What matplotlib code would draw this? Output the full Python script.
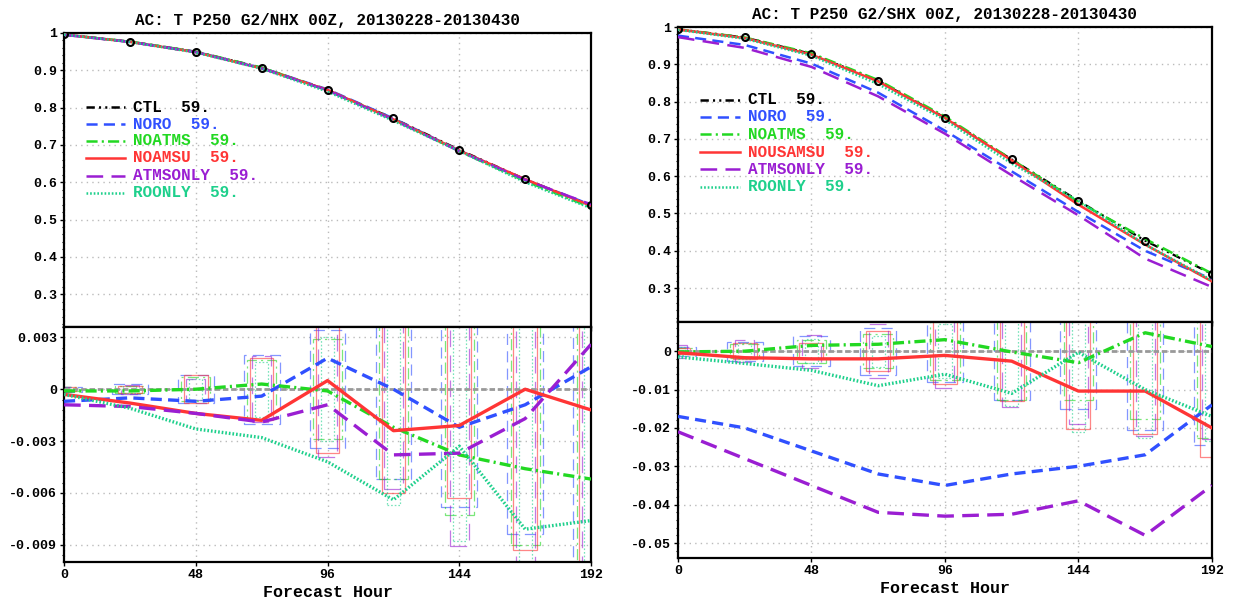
import numpy as np
import matplotlib
matplotlib.use("Agg")
import matplotlib.pyplot as plt
from matplotlib.patches import Rectangle
from matplotlib.ticker import MultipleLocator

plt.rcParams['font.family'] = ['Liberation Mono', 'DejaVu Sans Mono']
plt.rcParams['font.weight'] = 'bold'
plt.rcParams['axes.unicode_minus'] = False
plt.rcParams['lines.scale_dashes'] = False

# forecast hours
hours = [0, 24, 48, 72, 96, 120, 144, 168, 192]

# experiments
exps = ['NORO', 'NOATMS', 'NOAMSU', 'ATMSONLY', 'ROONLY']
ncases = '59.'

# CTL anomaly correlation
nh_ctl = [0.996, 0.977, 0.950, 0.907, 0.847, 0.771, 0.687, 0.608, 0.538]
sh_ctl = [0.994, 0.972, 0.928, 0.856, 0.757, 0.645, 0.534, 0.427, 0.338]

# differences from CTL (exp - CTL), NH
nh_noro = [-0.0007, -0.0005, -0.0007, -0.0004, 0.0018, 0.0, -0.0022, -0.0009, 0.0013]
nh_noatms = [-0.0001, -0.0001, 0.0, 0.0003, -0.0001, -0.0022, -0.0038, -0.0046, -0.0052]
nh_noamsu = [-0.0003, -0.0008, -0.0014, -0.0018, 0.0005, -0.0024, -0.0021, 0.0, -0.0012]
nh_atmsonly = [-0.0009, -0.0010, -0.0014, -0.0019, -0.0009, -0.0038, -0.0037, -0.0017, 0.0026]
nh_roonly = [-0.0003, -0.0011, -0.0023, -0.0028, -0.0042, -0.0064, -0.0033, -0.0081, -0.0076]

# differences from CTL, SH
sh_noro = [-0.017, -0.020, -0.026, -0.032, -0.035, -0.032, -0.030, -0.027, -0.014]
sh_noatms = [-0.0002, 0.0, 0.0015, 0.0018, 0.003, -0.0002, -0.003, 0.0048, 0.0012]
sh_noamsu = [-0.0004, -0.0017, -0.002, -0.002, -0.0011, -0.0026, -0.0104, -0.0104, -0.020]
sh_atmsonly = [-0.021, -0.028, -0.035, -0.042, -0.043, -0.0425, -0.039, -0.048, -0.035]
sh_roonly = [-0.0015, -0.0032, -0.005, -0.009, -0.006, -0.011, -0.0003, -0.010, -0.017]

# significance bar half heights, NH
nh_ci_noro = [0.00015, 0.0003, 0.0008, 0.0020, 0.0034, 0.0052, 0.0068, 0.0084, 0.012]
nh_ci_noatms = [0.0001, 0.0002, 0.0007, 0.0017, 0.0029, 0.0052, 0.0073, 0.0090, 0.012]
nh_ci_noamsu = [0.0001, 0.0002, 0.0008, 0.0018, 0.0037, 0.0060, 0.0063, 0.0093, 0.012]
nh_ci_atmsonly = [0.00015, 0.00025, 0.0006, 0.0019, 0.0039, 0.0058, 0.0091, 0.0110, 0.012]
nh_ci_roonly = [0.0001, 0.0002, 0.0006, 0.0016, 0.0030, 0.0067, 0.0088, 0.0105, 0.012]

# significance bar half heights, SH
sh_ci_noro = [0.0012, 0.0025, 0.0039, 0.0061, 0.0080, 0.0127, 0.0152, 0.0205, 0.0245]
sh_ci_noatms = [0.0008, 0.0018, 0.0030, 0.0044, 0.0075, 0.0128, 0.0126, 0.0178, 0.0225]
sh_ci_noamsu = [0.0008, 0.0020, 0.0020, 0.0052, 0.0085, 0.0130, 0.0204, 0.0215, 0.0275]
sh_ci_atmsonly = [0.0017, 0.0029, 0.0043, 0.0070, 0.0095, 0.0145, 0.0190, 0.0220, 0.0230]
sh_ci_roonly = [0.0010, 0.0020, 0.0032, 0.0040, 0.0070, 0.0142, 0.0210, 0.0225, 0.0235]

# styles
colors = {'CTL': 'black', 'NORO': '#3050ff', 'NOATMS': '#22d822', 'NOAMSU': '#ff3535',
          'ATMSONLY': '#9a1ed2', 'ROONLY': '#1ed08c'}
dashes = {'CTL': (0, (6, 3, 1.5, 3, 1.5, 3)), 'NORO': (0, (8, 4.5)),
          'NOATMS': (0, (8, 3, 1.5, 3)), 'NOAMSU': '-',
          'ATMSONLY': (0, (12, 6)), 'ROONLY': (0, (1.2, 1.4))}
box_hw = {'NORO': 6.5, 'NOATMS': 5.3, 'NOAMSU': 4.3, 'ATMSONLY': 3.4, 'ROONLY': 2.4}

panels = [
    dict(title='AC: T P250 G2/NHX 00Z, 20130228-20130430', ctl=nh_ctl,
         diff=[nh_noro, nh_noatms, nh_noamsu, nh_atmsonly, nh_roonly],
         ci=[nh_ci_noro, nh_ci_noatms, nh_ci_noamsu, nh_ci_atmsonly, nh_ci_roonly],
         names=['NORO', 'NOATMS', 'NOAMSU', 'ATMSONLY', 'ROONLY'],
         top=[0.0518, 0.4568, 0.4264, 0.4884], bot=[0.0518, 0.0664, 0.4264, 0.3904],
         ylim=(0.212, 1.0), dlim=(-0.0100, 0.0036), dstep=0.003,
         dticks=['-0.009', '-0.006', '-0.003', '0', '0.003'],
         leg_y=[0.748, 0.690, 0.633, 0.575, 0.514, 0.456]),
    dict(title='AC: T P250 G2/SHX 00Z, 20130228-20130430', ctl=sh_ctl,
         diff=[sh_noro, sh_noatms, sh_noamsu, sh_atmsonly, sh_roonly],
         ci=[sh_ci_noro, sh_ci_noatms, sh_ci_noamsu, sh_ci_atmsonly, sh_ci_roonly],
         names=['NORO', 'NOATMS', 'NOUSAMSU', 'ATMSONLY', 'ROONLY'],
         top=[0.5485, 0.4651, 0.4320, 0.4900], bot=[0.5485, 0.0731, 0.4320, 0.3920],
         ylim=(0.209, 1.0), dlim=(-0.0539, 0.0076), dstep=0.01,
         dticks=['-0.05', '-0.04', '-0.03', '-0.02', '-0.01', '0'],
         leg_y=[0.753, 0.695, 0.637, 0.576, 0.518, 0.458]),
]

fig = plt.figure(figsize=(12.36, 6.02), dpi=100)

for p in panels:
    ax = fig.add_axes(p['top'])
    ax2 = fig.add_axes(p['bot'])
    ctl = np.array(p['ctl'])

    # upper panel: AC scores
    ax.plot(hours, ctl, color=colors['CTL'], linestyle=dashes['CTL'], lw=1.6, zorder=3)
    for exp, d in zip(exps, p['diff']):
        ax.plot(hours, ctl + np.array(d), color=colors[exp], linestyle=dashes[exp], lw=1.8, zorder=4)
    ax.plot(hours, ctl, linestyle='none', marker='o', ms=5, mfc='none', mec='black', mew=1.5, zorder=5)
    ax.set_xlim(0, 192)
    ax.set_ylim(*p['ylim'])
    ax.set_yticks([0.3, 0.4, 0.5, 0.6, 0.7, 0.8, 0.9, 1.0])
    ax.set_yticklabels(['0.3', '0.4', '0.5', '0.6', '0.7', '0.8', '0.9', '1'])
    ax.set_xticks([0, 48, 96, 144, 192])
    ax.tick_params(axis='x', length=0, labelbottom=False)
    ax.yaxis.set_minor_locator(MultipleLocator(0.02))
    ax.set_title(p['title'], fontsize=11.5, fontweight='bold', pad=6)

    # legend drawn by hand
    labels = ['CTL'] + p['names']
    for i, (lab, key) in enumerate(zip(labels, ['CTL'] + exps)):
        y = p['leg_y'][i]
        ax.plot([0.042, 0.116], [y, y], transform=ax.transAxes, color=colors[key],
                linestyle=dashes[key], lw=1.8, clip_on=False)
        ax.text(0.131, y, lab + '  ' + ncases, transform=ax.transAxes, color=colors[key],
                fontsize=11.5, fontweight='bold', va='center', ha='left')

    # lower panel: differences and significance boxes
    for exp, d, ci in zip(exps, p['diff'], p['ci']):
        for h, c in zip(hours, ci):
            w = box_hw[exp]
            ax2.add_patch(Rectangle((h - w, -c), 2 * w, 2 * c, fill=False, edgecolor=colors[exp],
                                    linestyle=dashes[exp], lw=0.9, alpha=0.6, zorder=2))
    ax2.axhline(0, color='#999999', linestyle=(0, (4, 2)), lw=2, zorder=3)
    for exp, d in zip(exps, p['diff']):
        ax2.plot(hours, d, color=colors[exp], linestyle=dashes[exp], lw=2.4, zorder=4)
    ax2.set_xlim(0, 192)
    ax2.set_ylim(*p['dlim'])
    ax2.set_yticks([float(t) for t in p['dticks']])
    ax2.set_yticklabels(p['dticks'])
    ax2.set_xticks([0, 48, 96, 144, 192])
    ax2.set_xticklabels(['0', '48', '96', '144', '192'])
    ax2.yaxis.set_minor_locator(MultipleLocator(p['dstep'] / 5))
    ax2.set_xlabel('Forecast Hour', fontsize=12, fontweight='bold', labelpad=3)

    for a in (ax, ax2):
        a.grid(True, color='#bbbbbb', linestyle=(0, (1, 3)), lw=1)
        a.set_axisbelow(True)
        a.tick_params(axis='both', which='major', labelsize=9.5, length=3, width=1, direction='out', pad=2)
        a.tick_params(axis='y', which='minor', length=1.5, width=0.8, direction='out')
        for s in a.spines.values():
            s.set_linewidth(1.6)

fig.savefig('out.png', dpi=100)
